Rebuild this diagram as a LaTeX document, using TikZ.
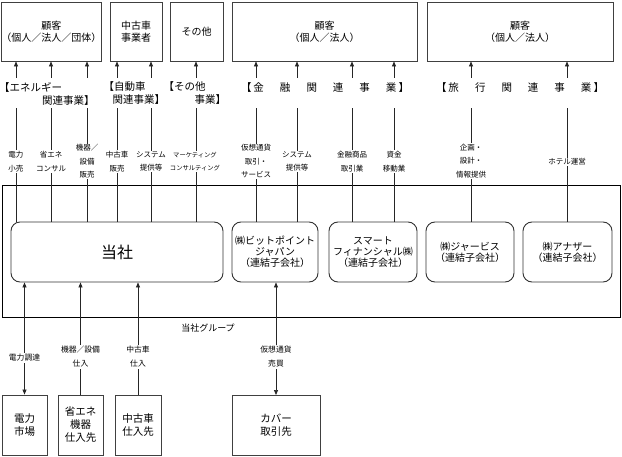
\documentclass[tikz,border=0pt]{standalone}
\usepackage{fontspec}
\setmainfont{Noto Sans CJK JP}
\usetikzlibrary{arrows.meta}
\begin{document}
\begin{tikzpicture}[x=1pt,y=-1pt,
  >={Triangle[length=5pt,width=4pt]},
  topbox/.style={draw=black!75, line width=0.9pt, inner sep=0pt, align=center,
    minimum height=59pt, font=\fontsize{10}{12}\selectfont},
  subbox/.style={draw=black!80, line width=0.9pt, rounded corners=9pt, inner sep=0pt,
    align=center, minimum height=60pt, font=\fontsize{10}{11}\selectfont},
  botbox/.style={draw=black!75, line width=0.9pt, inner sep=0pt, align=center,
    minimum height=60pt, font=\fontsize{10.5}{13}\selectfont},
  lab/.style={fill=white, inner sep=1pt, align=center, font=\fontsize{7.5}{13.5}\selectfont},
  blab/.style={fill=white, inner sep=1pt, align=center, font=\fontsize{7.8}{14}\selectfont},
  cat/.style={fill=white, inner sep=0pt, align=left, anchor=west, minimum height=30pt,
    font=\fontsize{10.5}{13}\selectfont},
  catone/.style={fill=white, inner sep=0pt, anchor=base, text height=14pt, text depth=16pt,
    font=\fontsize{10.5}{13}\selectfont},
  arr/.style={->, draw=black!85, line width=0.7pt},
  both/.style={<->, draw=black!85, line width=0.7pt},
]
\useasboundingbox (0,0) rectangle (622,457);

% group frame
\node[draw=black, line width=1.4pt, minimum width=618pt, minimum height=132pt, inner sep=0pt] (grp) at (311.2,251.5) {};
\node[font=\fontsize{9}{11}\selectfont, inner sep=1pt] (grplab) at (208,328) {当社グループ};

% top customer boxes
\node[topbox, minimum width=99pt] (c1) at (51.5,31.5) {顧客\\（個人／法人／団体）};
\node[topbox, minimum width=52pt] (c2) at (136,31.5) {中古車\\事業者};
\node[topbox, minimum width=53pt] (c3) at (196.5,31.5) {その他};
\node[topbox, minimum width=185pt] (c4) at (324.5,31.5) {顧客\\（個人／法人）};
\node[topbox, minimum width=186pt] (c5) at (520,31.5) {顧客\\（個人／法人）};

% group companies
\node[subbox, minimum width=212pt, font=\fontsize{16}{18}\selectfont] (tosha) at (117,252) {当社};
\node[subbox, minimum width=86pt] (bp) at (275,252) {㈱ビットポイント\\ジャパン\\（連結子会社）};
\node[subbox, minimum width=88pt] (sf) at (373,252) {スマート\\フィナンシャル㈱\\（連結子会社）};
\node[subbox, minimum width=88pt] (jv) at (470,252) {㈱ジャービス\\（連結子会社）};
\node[subbox, minimum width=89pt] (an) at (567.5,252) {㈱アナザー\\（連結子会社）};

% bottom supplier boxes
\node[botbox, minimum width=45pt] (m1) at (24.5,425) {電力\\市場};
\node[botbox, minimum width=45pt] (m2) at (80.5,425) {省エネ\\機器\\仕入先};
\node[botbox, minimum width=46pt] (m3) at (138,425) {中古車\\仕入先};
\node[botbox, minimum width=88pt] (m4) at (276,425.5) {カバー\\取引先};

% x positions of upward connectors
\foreach \n/\x in {a1/16,a2/51,a3/87,a4/117,a5/151,a6/196,a7/256,a8/297,a9/352,a10/394,a11/471,a12/567}
  \coordinate (\n) at (\x,0);

\draw[arr] (tosha.north -| a1) -- (c1.south -| a1);
\draw[arr] (tosha.north -| a2) -- (c1.south -| a2);
\draw[arr] (tosha.north -| a3) -- (c1.south -| a3);
\draw[arr] (tosha.north -| a4) -- (c2.south -| a4);
\draw[arr] (tosha.north -| a5) -- (c2.south -| a5);
\draw[arr] (tosha.north -| a6) -- (c3.south -| a6);
\draw[arr] (bp.north -| a7) -- (c4.south -| a7);
\draw[arr] (bp.north -| a8) -- (c4.south -| a8);
\draw[arr] (sf.north -| a9) -- (c4.south -| a9);
\draw[arr] (sf.north -| a10) -- (c4.south -| a10);
\draw[arr] (jv.north -| a11) -- (c5.south -| a11);
\draw[arr] (an.north -| a12) -- (c5.south -| a12);

% bottom connectors
\draw[both] (m1.north) -- (tosha.south -| m1.north);
\draw[arr] (m2.north) -- (tosha.south -| m2.north);
\draw[arr] (m3.north) -- (tosha.south -| m3.north);
\draw[both] (bp.south -| m4.north) -- (m4.north);

% category labels
\node[cat] (k1) at (-1.2,93.5) {【エネルギー\\\hspace*{43.2pt}関連事業】};
\node[cat] (k2) at (103.3,93.5) {【自動車\\\hspace*{9.2pt}関連事業】};
\node[cat] (k3) at (163.3,93.5) {【その他\\\hspace*{31.2pt}事業】};
\node[catone] (k4) at (325,92) {【\hspace{2pt}金\hspace{16pt}融\hspace{16pt}関\hspace{16pt}連\hspace{16pt}事\hspace{16pt}業\hspace{2pt}】};
\node[catone] (k5) at (520,92) {【\hspace{2pt}旅\hspace{16pt}行\hspace{16pt}関\hspace{16pt}連\hspace{16pt}事\hspace{16pt}業\hspace{2pt}】};

% line labels
\node[lab] (l1) at (16,161.5) {電力\\小売};
\node[lab] (l2) at (51,161.5) {省エネ\\コンサル};
\node[lab] (l3) at (87,161.5) {機器／\\設備\\販売};
\node[lab] (l4) at (117,161.5) {中古車\\販売};
\node[lab] (l5) at (151,161.5) {システム\\提供等};
\node[lab, font=\fontsize{6.3}{13.5}\selectfont] (l6) at (195,161.5) {マーケティング\\コンサルティング};
\node[lab] (l7) at (256,161.5) {仮想通貨\\取引・\\サービス};
\node[lab] (l8) at (297,161.5) {システム\\提供等};
\node[lab] (l9) at (352,161.5) {金融商品\\取引業};
\node[lab] (l10) at (394,161.5) {資金\\移動業};
\node[lab] (l11) at (471,161) {企画・\\設計・\\情報提供};
\node[lab] (l12) at (567,162) {ホテル運営};

% bottom labels
\node[blab] (b1) at (24.5,358) {電力調達};
\node[blab] (b2) at (80.5,357) {機器／設備\\仕入};
\node[blab] (b3) at (138,357) {中古車\\仕入};
\node[blab] (b4) at (276,357) {仮想通貨\\売買};
\end{tikzpicture}
\end{document}
